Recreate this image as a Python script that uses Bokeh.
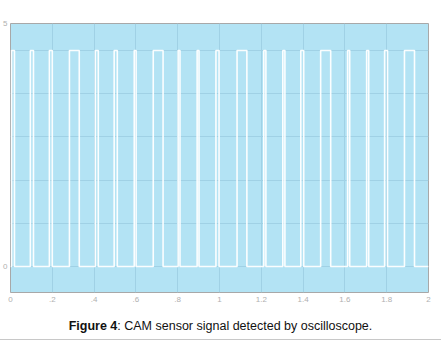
from bokeh.plotting import figure
from bokeh.models import Range1d, FixedTicker, Div
from bokeh.layouts import column
from bokeh.embed import file_html
from bokeh.resources import INLINE

# Pulse edges (seconds)
rise_times = [0.005, 0.095, 0.186, 0.282, 0.406, 0.496, 0.592, 0.683, 0.802, 0.893,
              0.983, 1.084, 1.212, 1.303, 1.389, 1.484, 1.613, 1.704, 1.790, 1.885]
fall_times = [0.019, 0.110, 0.200, 0.329, 0.420, 0.511, 0.601, 0.730, 0.811, 0.902,
              0.998, 1.131, 1.222, 1.313, 1.403, 1.532, 1.623, 1.714, 1.804, 1.933]
low_level = 0
high_level = 5
t_start = 0
t_end = 2

x_ticks = [0, 0.2, 0.4, 0.6, 0.8, 1.0, 1.2, 1.4, 1.6, 1.8, 2.0]
x_tick_labels = ["0", ".2", ".4", ".6", ".8", "1", "1.2", "1.4", "1.6", "1.8", "2"]
y_ticks = [0, 1, 2, 3, 4, 5, 5.625]
y_tick_labels = ["0", "", "", "", "", "", "5"]

caption_bold = "Figure 4"
caption_rest = ": CAM sensor signal detected by oscilloscope."

# build step trace
xs = [t_start]
ys = [low_level]
for r, f in zip(rise_times, fall_times):
    xs += [r, r, f, f]
    ys += [low_level, high_level, high_level, low_level]
xs.append(t_end)
ys.append(low_level)

p = figure(width=433, height=305, output_backend="svg", toolbar_location=None,
           x_range=Range1d(0, 2), y_range=Range1d(-0.6, 5.625),
           min_border_left=9, min_border_right=5, min_border_top=23, min_border_bottom=13)

p.background_fill_color = "#b3e3f4"
p.border_fill_color = "white"
p.outline_line_color = "#a8a8a8"
p.outline_line_width = 1

p.line(xs, ys, line_color="white", line_width=1.6, line_alpha=0.95)

p.xaxis.ticker = FixedTicker(ticks=x_ticks)
p.xaxis.major_label_overrides = {t: l for t, l in zip(x_ticks, x_tick_labels)}
p.yaxis.ticker = FixedTicker(ticks=y_ticks)
p.yaxis.major_label_overrides = {t: l for t, l in zip(y_ticks, y_tick_labels)}

for ax in (p.xaxis[0], p.yaxis[0]):
    ax.axis_line_color = None
    ax.major_tick_line_color = None
    ax.minor_tick_line_color = None
    ax.major_tick_out = 0
    ax.major_tick_in = 0
    ax.major_label_text_font = "Liberation Sans"
    ax.major_label_text_font_size = "8px"
    ax.major_label_text_color = "#b0b0b0"
p.xaxis.major_label_standoff = 4
p.yaxis.major_label_standoff = 3

p.xgrid.ticker = FixedTicker(ticks=x_ticks)
p.ygrid.ticker = FixedTicker(ticks=y_ticks)
p.xgrid.grid_line_color = "#a0d1e5"
p.ygrid.grid_line_color = "#a0d1e5"

caption = Div(
    text=('<div style="width:441px;box-sizing:border-box;text-align:center;'
          'font-family:\'Liberation Sans\',Arial,sans-serif;font-size:12.5px;line-height:15px;'
          'color:#111;padding-top:14px;padding-bottom:5px;border-bottom:1px solid #c8c8c8;">'
          f'<b>{caption_bold}</b>{caption_rest}</div>'),
    width=441, height=35, margin=(0, 0, 0, 0))

layout = column(p, caption, spacing=0)
open("out.html", "w").write(file_html(layout, INLINE))
